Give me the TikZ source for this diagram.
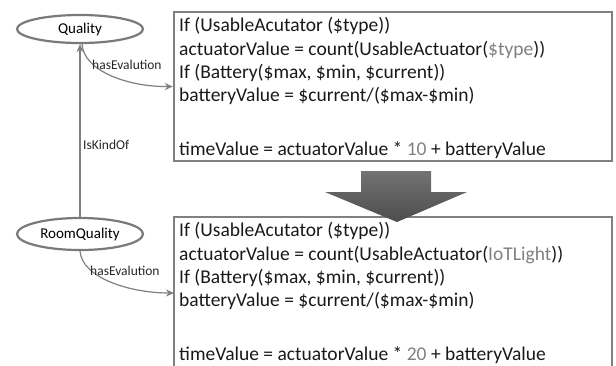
\documentclass[tikz,border=0pt]{standalone}
\usepackage{fontspec}
\setmainfont{Carlito}
\usetikzlibrary{shapes.geometric,arrows.meta}
\definecolor{lg}{HTML}{808080}
\definecolor{dg}{HTML}{7A7A7A}
\tikzset{
  cls/.style={ellipse, draw=dg, line width=2.2pt, fill=white, inner sep=0pt, font=\fontsize{15}{18}\selectfont},
  codebox/.style={rectangle, draw=black!50, line width=2.4pt, inner sep=0pt},
  codetext/.style={anchor=base west, align=left, inner sep=0pt, text=black!90, font=\fontsize{19.5}{23.3}\selectfont},
  rel/.style={draw=lg, line width=1.2pt, -{Stealth[length=8pt,width=7pt]}},
  rellabel/.style={font=\fontsize{13.5}{16}\selectfont, inner sep=0pt, text=black!85},
}
\newcommand{\gr}[1]{\textcolor{lg}{#1}}
\begin{document}
\begin{tikzpicture}[x=1pt,y=-1pt]
\useasboundingbox (0,0) rectangle (616,365);
% boxes
\node[codebox, minimum width=438pt, minimum height=149pt] (T) at (393,86.5) {};
\node[codebox, minimum width=438pt, minimum height=168pt] (B) at (393,301) {};
\node[codetext] (Tt) at (179,155) {If (UsableAcutator (\$type))\\
actuatorValue = count(UsableActuator(\gr{\$type}))\\
If (Battery(\$max, \$min, \$current))\\
batteryValue = \$current/(\$max-\$min)\\[30pt]
timeValue = actuatorValue * \gr{10} + batteryValue};
\node[codetext] (Bt) at (179,360) {If (UsableAcutator (\$type))\\
actuatorValue = count(UsableActuator(\gr{IoTLight}))\\
If (Battery(\$max, \$min, \$current))\\
batteryValue = \$current/(\$max-\$min)\\[30pt]
timeValue = actuatorValue * \gr{20} + batteryValue};
% block arrow
\shade[top color=black!55, bottom color=black!70] (361,171) -- (431,171) -- (431,192) -- (467,192) -- (397,222) -- (325,192) -- (361,192) -- cycle;
% classes
\node[cls, minimum width=126pt, minimum height=28pt] (Q) at (80,29) {Quality};
\node[cls, minimum width=126pt, minimum height=32pt] (R) at (80,234) {RoomQuality};
\coordinate (Bin) at (174,293);
% connectors
\draw[rel] (R.north) -- (Q.south);
\draw[rel] ([xshift=2pt]Q.south) .. controls (84,72) and (130,87) .. (T.west);
\draw[rel] (R.south) .. controls (82,278) and (130,293) .. (Bin);
\node[rellabel, anchor=west] (L1) at (92,65) {hasEvalution};
\node[rellabel, anchor=west] (L2) at (83,145) {IsKindOf};
\node[rellabel, anchor=west] (L3) at (90,271) {hasEvalution};
\end{tikzpicture}
\end{document}
